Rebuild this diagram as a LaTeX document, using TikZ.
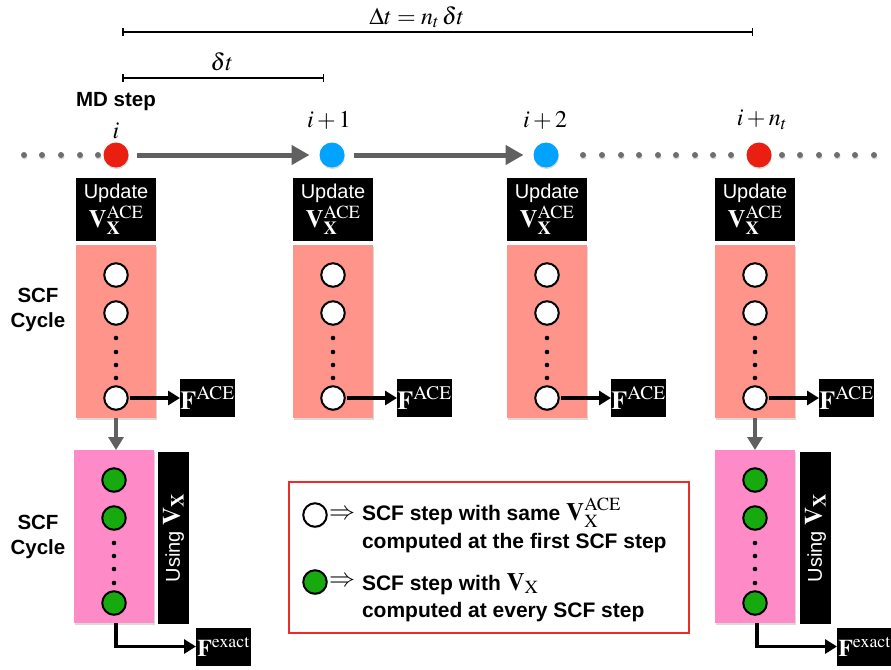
\documentclass[tikz,border=0pt]{standalone}
\usepackage{mathptmx}
\usepackage{fontspec}
\setmainfont{Liberation Serif}
\newfontfamily\labelsans{Liberation Sans}
\usetikzlibrary{arrows.meta,shadows,calc}

\definecolor{salmonbox}{RGB}{255,148,138}
\definecolor{pinkbox}{RGB}{255,138,200}
\definecolor{mdred}{RGB}{235,30,18}
\definecolor{mdblue}{RGB}{0,163,255}
\definecolor{scfgreen}{RGB}{22,170,14}
\definecolor{flowgrey}{RGB}{96,96,96}
\definecolor{dotgrey}{RGB}{110,110,110}
\definecolor{legendred}{RGB}{235,45,35}

% larger math for the operator symbols
\newcommand{\bigmath}[1]{{\fontsize{25}{25}\selectfont$#1$}}

\tikzset{
  every node/.style={inner sep=0pt, outer sep=0pt},
  softshadow/.style={drop shadow={opacity=0.3, shadow xshift=0.5pt, shadow yshift=-1.5pt}},
  sanslabel/.style={font=\labelsans\bfseries\fontsize{20.5}{25}\selectfont, align=center},
  steplabel/.style={font=\fontsize{24}{28}\selectfont},
  mdpoint/.style={circle, minimum size=25pt, softshadow},
  greydot/.style={circle, fill=dotgrey, minimum size=6pt},
  updatebox/.style={fill=black, text=white, minimum width=80pt, minimum height=63pt,
    align=center, font=\labelsans\fontsize{20}{23}\selectfont},
  cyclebox/.style={minimum width=80pt, minimum height=173pt, softshadow},
  scfcircle/.style={circle, draw=black, line width=2pt, minimum size=23.5pt, softshadow},
  aceball/.style={scfcircle, fill=white},
  exactball/.style={scfcircle, fill=scfgreen},
  smalldot/.style={circle, fill=black, minimum size=4.6pt},
  forcebox/.style={fill=black, text=white, minimum width=55pt, minimum height=38pt,
    font=\fontsize{26}{28}\selectfont},
  exactbox/.style={forcebox, font=\fontsize{24}{28}\selectfont},
  usingbox/.style={fill=black, text=white, minimum width=31pt, minimum height=172pt},
  flowarrow/.style={draw=flowgrey, line width=5pt, -{Triangle[length=18pt,width=19pt]}},
  downarrow/.style={draw=flowgrey, line width=3.5pt, -{Triangle[length=13pt,width=15pt]}},
  forcearrow/.style={draw=black, line width=3.2pt, -{Triangle[length=12pt,width=14pt]}},
  spanbar/.style={draw=black, line width=2pt, {Bar[width=8pt,line width=1.5pt]}-{Bar[width=8pt,line width=1.5pt]}},
  legendframe/.style={draw=legendred, line width=1.5pt, minimum width=400pt, minimum height=151pt},
  legendtext/.style={anchor=base west, font=\labelsans\bfseries\fontsize{21}{25}\selectfont},
}

\begin{document}
\begin{tikzpicture}[x=1pt, y=-1pt]
\useasboundingbox (0,0) rectangle (891,669);

% ---- time spans ----
\coordinate (spanA) at (122,32);
\coordinate (spanB) at (753,32);
\coordinate (spanC) at (122,78);
\coordinate (spanD) at (324,78);
\draw[spanbar] (spanA) -- (spanB);
\draw[spanbar] (spanC) -- (spanD);
\node[steplabel] (bigspan) at (417,17) {$\Delta t = n_t\,\delta t$};
\node[steplabel] (smallspan) at (222,62) {$\delta t$};
\node[sanslabel] (mdstep) at (116,102) {MD step};

% ---- MD time line ----
\foreach \x [count=\k] in {24,42,61,80,98,583,602,621,639,658,676,695,713,731,782,800,819,837,855,874}
  \node[greydot, softshadow] (tdot\k) at (\x,155) {};

\node[mdpoint, fill=mdred]  (md1) at (116,155) {};
\node[mdpoint, fill=mdblue] (md2) at (332,155) {};
\node[mdpoint, fill=mdblue] (md3) at (546,155) {};
\node[mdpoint, fill=mdred]  (md4) at (759,155) {};

\node[steplabel] (lab1) at (116,131) {$i$};
\node[steplabel] (lab2) at (329,120) {$i+1$};
\node[steplabel] (lab3) at (545,120) {$i+2$};
\node[steplabel] (lab4) at (762,120) {$i+n_t$};

\draw[flowarrow, shorten <=8pt, shorten >=10pt] (md1) -- (md2);
\draw[flowarrow, shorten <=9pt, shorten >=10pt] (md2) -- (md3);

% ---- SCF cycles with ACE operator ----
\foreach \c [count=\k] in {116,333,547,755} {
  \node[updatebox] (upd\k) at (\c,209.5) {Update\\[2pt]\bigmath{\mathbf{V}_{\mathbf{X}}^{\mathrm{ACE}}}};
  \node[cyclebox, fill=salmonbox] (ace\k) at (\c,331.5) {};
  \node[aceball] (aceA\k) at (\c,275) {};
  \node[aceball] (aceB\k) at (\c,313) {};
  \node[aceball] (aceC\k) at (\c,398) {};
  \foreach \y [count=\j] in {338,352,365,378}
    \node[smalldot] (acedot\k-\j) at (\c,\y) {};
  \node[forcebox] (face\k) at ($(\c,398)+(91.5,0)$) {$\mathbf{F}^{\mathrm{ACE}}$};
  \draw[forcearrow, shorten <=2pt] (aceC\k) -- (face\k);
}

% ---- SCF cycles with the full exchange operator ----
\foreach \c/\u/\f/\k in {114/173.5/223.5/1, 755/815.5/864.5/4} {
  \node[cyclebox, fill=pinkbox] (exa\k) at (\c,536.5) {};
  \node[exactball] (exA\k) at (\c,480) {};
  \node[exactball] (exB\k) at (\c,518) {};
  \node[exactball] (exC\k) at (\c,603) {};
  \foreach \y [count=\j] in {543,556,569,583}
    \node[smalldot] (exdot\k-\j) at (\c,\y) {};
  \node[usingbox] (use\k) at (\u,538) {};
  \node[rotate=90, text=white, font=\labelsans\fontsize{20}{24}\selectfont] (usetxt\k) at (\u,538)
    {Using \bigmath{\mathbf{V}_{\mathbf{X}}}};
  \node[exactbox] (fex\k) at (\f,646.5) {$\mathbf{F}^{\mathrm{exact}}$};
  \coordinate (exout\k) at ($(exa\k.south)+(2,0)$);
  \draw[forcearrow] (exout\k) |- (fex\k.west);
}
\draw[downarrow] (ace1.south) -- (ace1.south |- exa1.north);
\draw[downarrow] (ace4.south) -- (ace4.south |- exa4.north);

% ---- side labels ----
\node[sanslabel] (cyc1) at (38,310) {SCF\\Cycle};
\node[sanslabel] (cyc2) at (38,537) {SCF\\Cycle};

% ---- legend ----
\node[legendframe] (legend) at (489,557.5) {};
\node[aceball] (keyace) at (315,515) {};
\node[exactball] (keyexact) at (315,582) {};
\node[steplabel, font=\fontsize{26}{28}\selectfont] (arrA) at (342,515) {$\Rightarrow$};
\node[steplabel, font=\fontsize{26}{28}\selectfont] (arrB) at (342,582) {$\Rightarrow$};
\node[legendtext] (keyA1) at (362,520) {SCF step with same \bigmath{\mathbf{V}_{\mathrm{X}}^{\mathrm{ACE}}}};
\node[legendtext] (keyA2) at (362,548) {computed at the first SCF step};
\node[legendtext] (keyB1) at (362,590) {SCF step with \bigmath{\mathbf{V}_{\mathrm{X}}}};
\node[legendtext] (keyB2) at (362,617) {computed at every SCF step};
\end{tikzpicture}
\end{document}
